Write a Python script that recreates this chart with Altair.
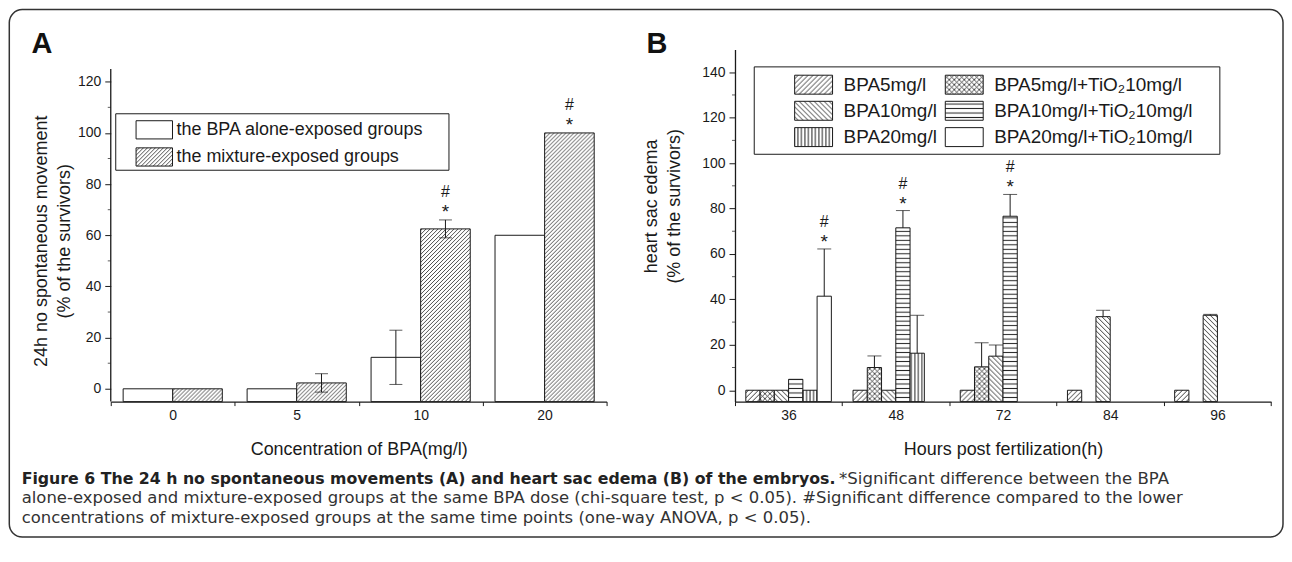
import altair as alt
import pandas as pd
import jinja2
import altair.utils.html as ahtml

# ---------------- data ----------------
conc = ["0", "5", "10", "20"]
groups_a = ["the BPA alone-exposed groups", " the mixture-exposed groups"]
a_alone = [0, 0, 12.3, 60]
a_alone_err = [0, 0, 10.6, 0]
a_mix = [0, 2.3, 62.5, 100]
a_mix_err = [0, 3.6, 3.5, 0]
a_sig_conc = ["10", "20"]          # mixture bars flagged with * and #
a_major = [0, 20, 40, 60, 80, 100, 120]
a_minor = [10, 30, 50, 70, 90, 110]

hours = ["36", "48", "72", "84", "96"]
series_b = ["BPA5mg/l", "BPA5mg/l+TiO\u208210mg/l",
            "BPA10mg/l", "BPA10mg/l+TiO\u208210mg/l",
            "BPA20mg/l", "BPA20mg/l+TiO\u208210mg/l"]
b_bpa5 = [0, 0, 0, 0, 0]
b_bpa5_ti = [0, 10.0, 10.3, None, None]
b_bpa10 = [0, 0, 15.0, 32.4, 33.0]
b_bpa10_ti = [4.8, 71.5, 76.6, None, None]
b_bpa20 = [0, 16.3, None, None, None]
b_bpa20_ti = [41.4, None, None, None, None]
b_bpa5_err = [0, 0, 0, 0, 0]
b_bpa5_ti_err = [0, 5.1, 10.6, None, None]
b_bpa10_err = [0, 0, 4.9, 2.8, 0.4]
b_bpa10_ti_err = [0, 7.6, 9.6, None, None]
b_bpa20_err = [0, 16.7, None, None, None]
b_bpa20_ti_err = [20.8, None, None, None, None]
b_sig_hours = ["36", "48", "72"]
b_sig_series = [series_b[5], series_b[3], series_b[3]]
legend_order_b = [series_b[0], series_b[2], series_b[4], series_b[1], series_b[3], series_b[5]]
b_major = [0, 20, 40, 60, 80, 100, 120, 140]
b_minor = [10, 30, 50, 70, 90, 110, 130]

caption_bold = "Figure 6 The 24 h no spontaneous movements (A) and heart sac edema (B) of the embryos."
caption_l1 = "*Significant difference between the BPA"
caption_l2 = ("alone-exposed and mixture-exposed groups at the same BPA dose (chi-square test, p < 0.05). "
              "#Significant difference compared to the lower")
caption_l3 = "concentrations of mixture-exposed groups at the same time points (one-way ANOVA, p < 0.05)."

# ---------------- hatch patterns (SVG defs injected into the page) ----------------
PATTERNS = """
<svg width="0" height="0" style="position:absolute;left:0;top:0">
 <defs>
  <pattern id="hA" patternUnits="userSpaceOnUse" width="4" height="4">
   <rect width="4" height="4" fill="#fff"/>
   <path d="M-1,1 l2,-2 M0,4 l4,-4 M3,5 l2,-2" stroke="#222" stroke-width="0.8"/>
  </pattern>
  <pattern id="hFwd" patternUnits="userSpaceOnUse" width="5" height="5">
   <rect width="5" height="5" fill="#fff"/>
   <path d="M-1,1 l2,-2 M0,5 l5,-5 M4,6 l2,-2" stroke="#222" stroke-width="0.9"/>
  </pattern>
  <pattern id="hBack" patternUnits="userSpaceOnUse" width="5" height="5">
   <rect width="5" height="5" fill="#fff"/>
   <path d="M-1,4 l2,2 M0,0 l5,5 M4,-1 l2,2" stroke="#222" stroke-width="0.9"/>
  </pattern>
  <pattern id="hCross" patternUnits="userSpaceOnUse" width="5" height="5">
   <rect width="5" height="5" fill="#fff"/>
   <path d="M-1,1 l2,-2 M0,5 l5,-5 M4,6 l2,-2 M-1,4 l2,2 M0,0 l5,5 M4,-1 l2,2" stroke="#222" stroke-width="0.8"/>
  </pattern>
  <pattern id="hHor" patternUnits="userSpaceOnUse" width="4" height="4.5">
   <rect width="4" height="4.5" fill="#fff"/>
   <path d="M0,2.25 H4" stroke="#222" stroke-width="1"/>
  </pattern>
  <pattern id="hVer" patternUnits="userSpaceOnUse" width="3.5" height="4">
   <rect width="3.5" height="4" fill="#fff"/>
   <path d="M1.75,0 V4" stroke="#222" stroke-width="1"/>
  </pattern>
 </defs>
</svg>
"""

TEMPLATE = jinja2.Template("""<!DOCTYPE html>
<html>
<head>
  <style>
    #{{ output_div }}.vega-embed { width: 100%; display: flex; }
    #{{ output_div }}.vega-embed details,
    #{{ output_div }}.vega-embed details summary { position: relative; }
  </style>
  <script type="text/javascript" src="{{ base_url }}/vega@{{ vega_version }}"></script>
  <script type="text/javascript" src="{{ base_url }}/vega-lite@{{ vegalite_version }}"></script>
  <script type="text/javascript" src="{{ base_url }}/vega-embed@{{ vegaembed_version }}"></script>
</head>
<body>
""" + PATTERNS + """
  <div id="{{ output_div }}"></div>
  <script>
    (function(vegaEmbed) {
      var spec = {{ spec }};
      var embedOpt = {{ embed_options }};
      const el = document.getElementById('{{ output_div }}');
      vegaEmbed("#{{ output_div }}", spec, embedOpt).catch(function(error) {
        el.innerHTML = '<div style="color:red;">' + error.message + '</div>';
      });
    })(vegaEmbed);
  </script>
</body>
</html>
""")
ahtml.TEMPLATES["standard"] = TEMPLATE

# ---------------- styling constants ----------------
FONT = "Liberation Sans"
CAPFONT = "DejaVu Sans"
INK = "#1a1a1a"
WIDE = "M-2,-1H2V1H-2Z"      # legend swatch: a rectangle twice as wide as tall
one = pd.DataFrame({"k": [0]})


def label(txt, x, y, size, weight="normal", font=FONT, color="#111"):
    return alt.Chart(one).mark_text(text=txt, font=font, fontSize=size, fontWeight=weight,
                                    align="left", baseline="alphabetic", color=color).encode(
        x=alt.value(x), y=alt.value(y))


def x_axis(title):
    return alt.Axis(title=title, labelAngle=0, tickBand="extent",
                    tickSize=4, tickColor=INK, domainColor=INK, domainWidth=1.3,
                    labelFont=FONT, labelFontSize=14, labelColor=INK, labelPadding=3,
                    titleFont=FONT, titleFontSize=18, titleFontWeight="normal", titleColor=INK,
                    titlePadding=18)


def y_axis(title, values, domain, title_x, title_y):
    return alt.Axis(title=title, values=values, domain=domain, grid=False,
                    domainColor=INK, domainWidth=1.3,
                    tickSize=6, tickColor=INK, labelFont=FONT, labelFontSize=14, labelColor=INK,
                    labelPadding=4, titleFont=FONT, titleFontSize=18, titleFontWeight="normal",
                    titleColor=INK, titleLineHeight=23, titleX=title_x, titleY=title_y)


def legend(x, y, h, label_size, label_offset, row_padding, columns=1):
    # swatch is 2h wide and h tall
    return alt.Legend(orient="none", legendX=x, legendY=y, title=None, columns=columns,
                      symbolType=WIDE, symbolSize=h * h, symbolOffset=h / 2,
                      symbolStrokeColor=INK, symbolStrokeWidth=1,
                      labelFont=FONT, labelFontSize=label_size, labelColor=INK,
                      labelOffset=label_offset, rowPadding=row_padding,
                      columnPadding=5, padding=0, labelLimit=400)


# ---------------- panel A ----------------
rows = []
for g, vals, errs in [(groups_a[0], a_alone, a_alone_err), (groups_a[1], a_mix, a_mix_err)]:
    for c, v, e in zip(conc, vals, errs):
        rows.append({"conc": c, "group": g, "value": v, "err": e, "lo": v - e, "hi": v + e})
dfA = pd.DataFrame(rows)
dfA_err = dfA[dfA["err"] > 0]
dfA_sig = dfA[(dfA["group"] == groups_a[1]) & (dfA["conc"].isin(a_sig_conc))]
dfA_minor = pd.DataFrame({"v": a_minor})

axisA_y = y_axis(["24h no spontaneous movement", "(% of the survivors)"], a_major, False,
                 -60, 191.7)
xA = alt.X("conc:N", sort=conc, scale=alt.Scale(paddingInner=0, paddingOuter=0),
           axis=x_axis("Concentration of BPA(mg/l)"))
xoA = alt.XOffset("group:N", sort=groups_a, scale=alt.Scale(paddingInner=0, paddingOuter=0.25))
yA_scale = alt.Scale(domain=[-5, 132.6], nice=False, zero=False)


def yA(field):
    return alt.Y(field, type="quantitative", scale=yA_scale, axis=axisA_y)


barsA = alt.Chart(dfA).mark_bar(stroke=INK, strokeWidth=1).encode(
    x=xA, xOffset=xoA, y=yA("value"), y2=alt.datum(-5),
    fill=alt.Fill("group:N", sort=groups_a,
                  scale=alt.Scale(domain=groups_a, range=["#ffffff", "url(#hA)"]),
                  legend=legend(24.5, 70.5, 18.25, 18, 12.25, 3.2)),
)
errA = alt.Chart(dfA_err).mark_rule(color=INK, strokeWidth=1).encode(
    x=xA, xOffset=xoA, y=yA("lo"), y2="hi:Q")
capA_hi = alt.Chart(dfA_err).mark_tick(color=INK, thickness=1, size=13).encode(
    x=xA, xOffset=xoA, y=yA("hi"))
capA_lo = alt.Chart(dfA_err).mark_tick(color=INK, thickness=1, size=13).encode(
    x=xA, xOffset=xoA, y=yA("lo"))
starA = alt.Chart(dfA_sig).mark_text(text="*", font=FONT, fontSize=19, dy=-8, color=INK,
                                     baseline="middle").encode(x=xA, xOffset=xoA, y=yA("hi"))
hashA = alt.Chart(dfA_sig).mark_text(text="#", font=FONT, fontSize=16, dy=-28, color=INK,
                                     baseline="middle").encode(x=xA, xOffset=xoA, y=yA("hi"))
minorA = alt.Chart(dfA_minor).mark_tick(color=INK, thickness=1, size=3).encode(
    y=yA("v"), x=alt.value(-1.5))

yline_A = alt.Chart(one).mark_rule(color=INK, strokeWidth=1.3).encode(
    x=alt.value(0), y=alt.datum(-5), y2=alt.datum(125))
frame = alt.Chart(one).mark_rect(fillOpacity=0, stroke="#333", strokeWidth=1.5,
                                 cornerRadius=13).encode(
    x=alt.value(-101.7), x2=alt.value(1175), y=alt.value(-40), y2=alt.value(488.7))
legbox_A = alt.Chart(one).mark_rect(fillOpacity=0, stroke=INK, strokeWidth=1).encode(
    x=alt.value(5), x2=alt.value(339), y=alt.value(64.4), y2=alt.value(121))

letterA = label("A", -79.4, 3.4, 29, "bold")
letterB = label("B", 537, 3.4, 29, "bold")
cap1b = label(caption_bold, -89.3, 435, 15.8, "bold", CAPFONT, "#222")
cap1 = label(caption_l1, 730, 435, 16.6, "normal", CAPFONT, "#333")
cap2 = label(caption_l2, -89.3, 455, 16.5, "normal", CAPFONT, "#333")
cap3 = label(caption_l3, -89.3, 475, 16.5, "normal", CAPFONT, "#333")

panelA = alt.layer(barsA, errA, capA_hi, capA_lo, starA, hashA, minorA, yline_A, legbox_A,
                   frame, letterA, letterB, cap1b, cap1, cap2, cap3).properties(
    width=497, height=352.9)

# ---------------- panel B ----------------
vals_b = [b_bpa5, b_bpa5_ti, b_bpa10, b_bpa10_ti, b_bpa20, b_bpa20_ti]
errs_b = [b_bpa5_err, b_bpa5_ti_err, b_bpa10_err, b_bpa10_ti_err, b_bpa20_err, b_bpa20_ti_err]
rows = []
for s, vals, errs in zip(series_b, vals_b, errs_b):
    for h, v, e in zip(hours, vals, errs):
        if v is None:
            continue
        e = e or 0
        rows.append({"hour": h, "series": s, "value": v, "err": e, "hi": v + e})
dfB = pd.DataFrame(rows)
dfB_err = dfB[dfB["err"] > 0]
sig_rows = list(zip(b_sig_hours, b_sig_series))
dfB_sig = dfB[[(h, s) in sig_rows for h, s in zip(dfB["hour"], dfB["series"])]]
dfB_minor = pd.DataFrame({"v": b_minor})

axisB_y = y_axis(["heart sac edema", "(% of the survivors)"], b_major, True, -75, 156.7)
xB = alt.X("hour:N", sort=hours, scale=alt.Scale(paddingInner=0, paddingOuter=0),
           axis=x_axis("Hours post fertilization(h)"))
xoB = alt.XOffset("series:N", sort=series_b, scale=alt.Scale(paddingInner=0, paddingOuter=0.76))
yB_scale = alt.Scale(domain=[-5, 150], nice=False, zero=False)


def yB(field):
    return alt.Y(field, type="quantitative", scale=yB_scale, axis=axisB_y)


barsB = alt.Chart(dfB).mark_bar(stroke=INK, strokeWidth=1).encode(
    x=xB, xOffset=xoB, y=yB("value"), y2=alt.datum(-5),
    fill=alt.Fill("series:N", sort=legend_order_b,
                  scale=alt.Scale(domain=legend_order_b,
                                  range=["url(#hFwd)", "url(#hBack)", "url(#hVer)",
                                         "url(#hCross)", "url(#hHor)", "#ffffff"]),
                  legend=legend(59.3, 25, 19, 19, 20, 2.4, columns=2)),
)
errB = alt.Chart(dfB_err).mark_rule(color=INK, strokeWidth=1).encode(
    x=xB, xOffset=xoB, y=yB("value"), y2="hi:Q")
capB = alt.Chart(dfB_err).mark_tick(color=INK, thickness=1, size=14).encode(
    x=xB, xOffset=xoB, y=yB("hi"))
starB = alt.Chart(dfB_sig).mark_text(text="*", font=FONT, fontSize=19, dy=-7, color=INK,
                                     baseline="middle").encode(x=xB, xOffset=xoB, y=yB("hi"))
hashB = alt.Chart(dfB_sig).mark_text(text="#", font=FONT, fontSize=16, dy=-27, color=INK,
                                     baseline="middle").encode(x=xB, xOffset=xoB, y=yB("hi"))
minorB = alt.Chart(dfB_minor).mark_tick(color=INK, thickness=1, size=3).encode(
    y=yB("v"), x=alt.value(-1.5))
legbox_B = alt.Chart(one).mark_rect(fillOpacity=0, stroke=INK, strokeWidth=1).encode(
    x=alt.value(19.3), x2=alt.value(486), y=alt.value(17.4), y2=alt.value(105))

panelB = alt.layer(barsB, errB, capB, starB, hashB, minorB, legbox_B).properties(
    width=537.3, height=352.9)

chart = alt.hconcat(panelA, panelB, spacing=128.7, bounds="flush").resolve_scale(
    fill="independent", xOffset="independent").properties(
    padding=0, background="white").configure_view(stroke=None)

chart.save("out.html", embed_options={"renderer": "svg", "actions": False})
